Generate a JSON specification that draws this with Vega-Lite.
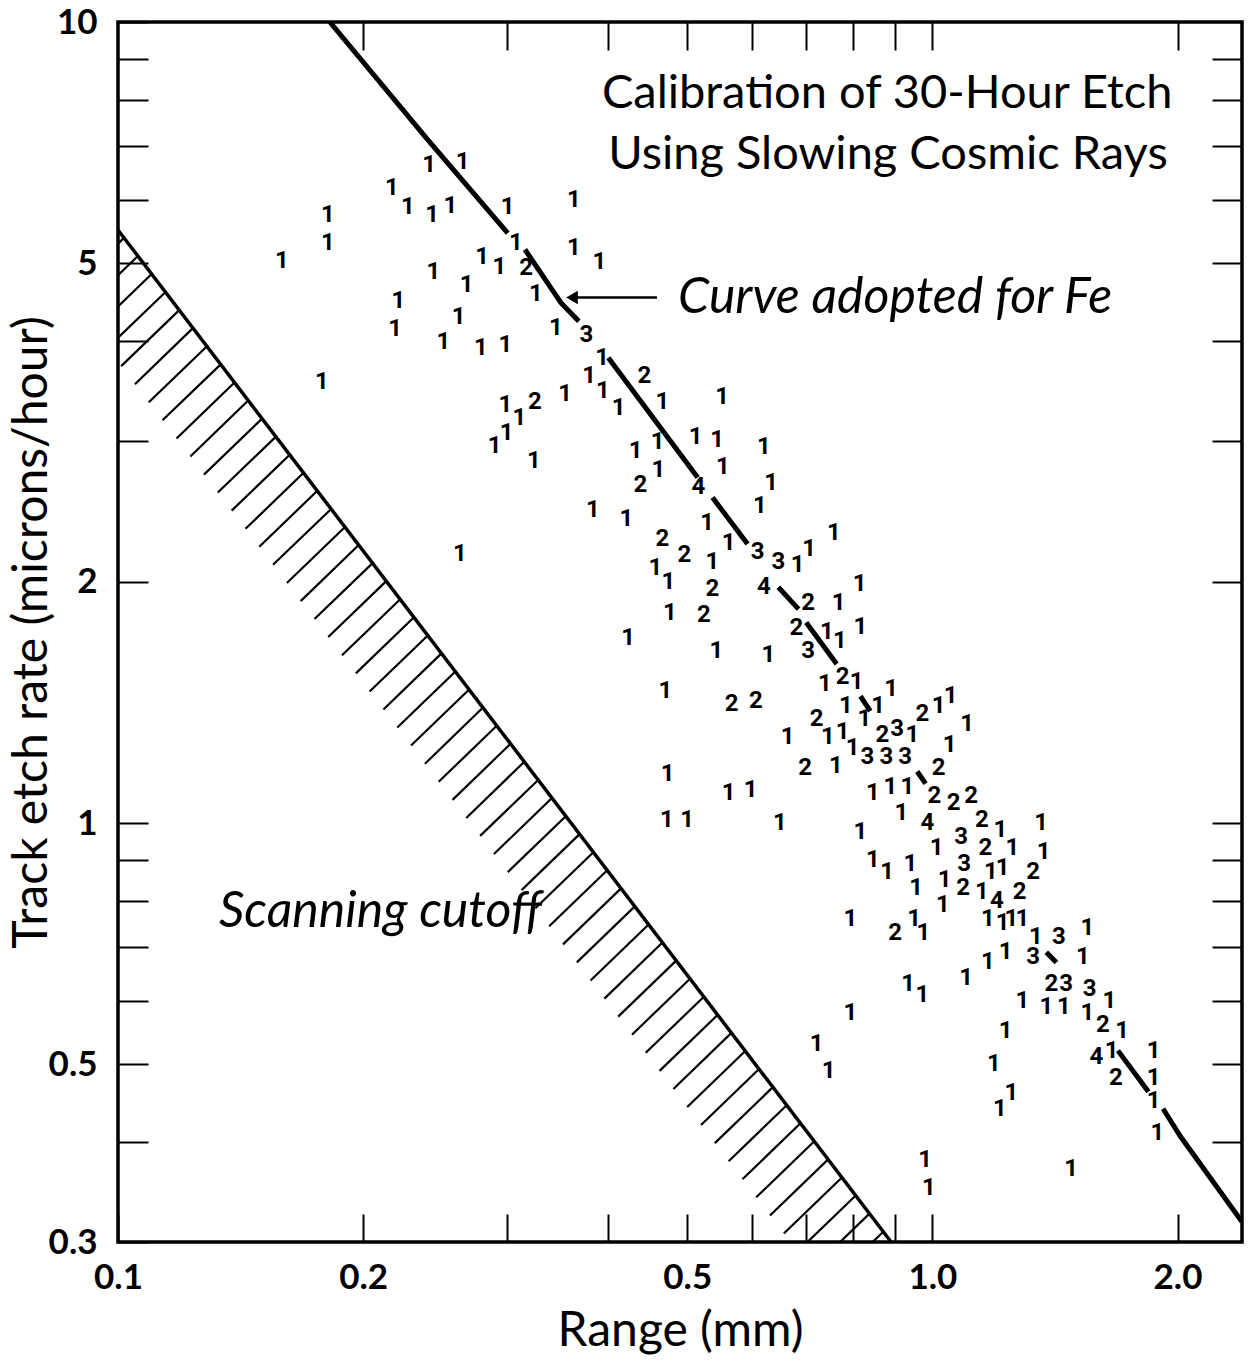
{
  "$schema": "https://vega.github.io/schema/vega-lite/v6.json",
  "width": 1124,
  "height": 1220,
  "autosize": {"type": "none"},
  "padding": {"left": 118, "top": 22, "right": 6, "bottom": 125},
  "background": "white",
  "config": {
    "view": {"stroke": "black", "strokeWidth": 3.5},
    "axis": {"grid": false, "domain": false, "tickColor": "black", "tickWidth": 2, "labelColor": "black", "titleColor": "black", "labelOverlap": false, "labelFlush": false}
  },
  "datasets": {
    "pts": [
      {"x":0.241,"y":6.63,"n":1},{"x":0.265,"y":6.69,"n":1},{"x":0.217,"y":6.2,"n":1},{"x":0.227,"y":5.88,"n":1},{"x":0.243,"y":5.75,"n":1},
      {"x":0.256,"y":5.9,"n":1},{"x":0.301,"y":5.87,"n":1},{"x":0.181,"y":5.75,"n":1},{"x":0.181,"y":5.3,"n":1},{"x":0.159,"y":5.03,"n":1},
      {"x":0.308,"y":5.3,"n":1},{"x":0.317,"y":4.93,"n":2},{"x":0.28,"y":5.09,"n":1},{"x":0.294,"y":4.95,"n":1},{"x":0.244,"y":4.88,"n":1},
      {"x":0.268,"y":4.7,"n":1},{"x":0.326,"y":4.58,"n":1},{"x":0.221,"y":4.49,"n":1},{"x":0.345,"y":4.15,"n":1},{"x":0.219,"y":4.14,"n":1},
      {"x":0.262,"y":4.28,"n":1},{"x":0.251,"y":3.99,"n":1},{"x":0.279,"y":3.92,"n":1},{"x":0.299,"y":3.95,"n":1},{"x":0.178,"y":3.55,"n":1},
      {"x":0.299,"y":3.33,"n":1},{"x":0.325,"y":3.35,"n":2},{"x":0.311,"y":3.2,"n":1},{"x":0.3,"y":3.07,"n":1},{"x":0.29,"y":2.96,"n":1},
      {"x":0.324,"y":2.83,"n":1},
      {"x":0.363,"y":6.0,"n":1},{"x":0.363,"y":5.23,"n":1},{"x":0.39,"y":5.01,"n":1},{"x":0.376,"y":4.07,"n":3},{"x":0.393,"y":3.81,"n":1},
      {"x":0.379,"y":3.61,"n":1},{"x":0.443,"y":3.61,"n":2},{"x":0.354,"y":3.43,"n":1},{"x":0.394,"y":3.46,"n":1},{"x":0.412,"y":3.3,"n":1},
      {"x":0.466,"y":3.35,"n":1},{"x":0.552,"y":3.4,"n":1},{"x":0.432,"y":2.91,"n":1},{"x":0.46,"y":2.99,"n":1},{"x":0.512,"y":3.03,"n":1},
      {"x":0.544,"y":3.01,"n":1},{"x":0.621,"y":2.95,"n":1},{"x":0.438,"y":2.64,"n":2},{"x":0.461,"y":2.76,"n":1},{"x":0.553,"y":2.78,"n":1},
      {"x":0.516,"y":2.63,"n":4},{"x":0.634,"y":2.66,"n":1},
      {"x":0.383,"y":2.46,"n":1},{"x":0.421,"y":2.4,"n":1},{"x":0.529,"y":2.37,"n":1},{"x":0.614,"y":2.49,"n":1},{"x":0.757,"y":2.3,"n":1},
      {"x":0.466,"y":2.26,"n":2},{"x":0.496,"y":2.16,"n":2},{"x":0.562,"y":2.24,"n":1},{"x":0.61,"y":2.18,"n":3},{"x":0.647,"y":2.12,"n":3},
      {"x":0.683,"y":2.1,"n":1},{"x":0.706,"y":2.2,"n":1},{"x":0.457,"y":2.08,"n":1},{"x":0.474,"y":2.0,"n":1},{"x":0.537,"y":2.12,"n":1},
      {"x":0.537,"y":1.96,"n":2},{"x":0.621,"y":1.97,"n":4},{"x":0.814,"y":1.99,"n":1},{"x":0.704,"y":1.88,"n":2},{"x":0.767,"y":1.88,"n":1},
      {"x":0.476,"y":1.83,"n":1},{"x":0.524,"y":1.82,"n":2},{"x":0.681,"y":1.75,"n":2},{"x":0.742,"y":1.73,"n":1},{"x":0.77,"y":1.69,"n":1},
      {"x":0.816,"y":1.755,"n":1},{"x":0.423,"y":1.7,"n":1},{"x":0.704,"y":1.64,"n":3},{"x":0.543,"y":1.64,"n":1},{"x":0.629,"y":1.62,"n":1},
      {"x":0.738,"y":1.49,"n":1},{"x":0.776,"y":1.52,"n":2},{"x":0.807,"y":1.5,"n":1},{"x":0.47,"y":1.46,"n":1},{"x":0.567,"y":1.41,"n":2},
      {"x":0.607,"y":1.42,"n":2},{"x":0.783,"y":1.4,"n":1},{"x":0.825,"y":1.35,"n":1},{"x":0.721,"y":1.35,"n":2},{"x":0.664,"y":1.28,"n":1},
      {"x":0.744,"y":1.28,"n":1},{"x":0.776,"y":1.3,"n":1},{"x":0.798,"y":1.24,"n":1},{"x":0.698,"y":1.17,"n":2},{"x":0.761,"y":1.18,"n":1},
      {"x":0.473,"y":1.15,"n":1},{"x":0.562,"y":1.09,"n":1},{"x":0.598,"y":1.1,"n":1},{"x":0.472,"y":1.01,"n":1},{"x":0.5,"y":1.01,"n":1},
      {"x":0.65,"y":1.0,"n":1},{"x":0.816,"y":0.975,"n":1},{"x":0.263,"y":2.17,"n":1},
      {"x":0.89,"y":1.47,"n":1},{"x":0.858,"y":1.4,"n":1},{"x":0.868,"y":1.29,"n":2},{"x":0.905,"y":1.31,"n":3},{"x":0.945,"y":1.29,"n":1},
      {"x":0.972,"y":1.37,"n":2},{"x":1.018,"y":1.4,"n":1},{"x":1.053,"y":1.44,"n":1},{"x":1.103,"y":1.33,"n":1},{"x":1.05,"y":1.25,"n":1},
      {"x":0.832,"y":1.21,"n":3},{"x":0.878,"y":1.21,"n":3},{"x":0.926,"y":1.21,"n":3},{"x":1.018,"y":1.17,"n":2},{"x":0.845,"y":1.09,"n":1},
      {"x":0.888,"y":1.11,"n":1},{"x":0.932,"y":1.11,"n":1},{"x":1.006,"y":1.08,"n":2},{"x":1.062,"y":1.06,"n":2},{"x":1.116,"y":1.08,"n":2},
      {"x":0.916,"y":1.03,"n":1},{"x":0.986,"y":1.0,"n":4},{"x":1.15,"y":1.01,"n":2},{"x":1.212,"y":0.98,"n":1},{"x":1.36,"y":1.0,"n":1},
      {"x":1.085,"y":0.96,"n":3},{"x":1.162,"y":0.93,"n":2},{"x":1.254,"y":0.93,"n":1},{"x":1.37,"y":0.92,"n":1},{"x":0.845,"y":0.9,"n":1},
      {"x":0.88,"y":0.87,"n":1},{"x":0.94,"y":0.89,"n":1},{"x":1.012,"y":0.93,"n":1},{"x":1.094,"y":0.89,"n":3},{"x":1.18,"y":0.87,"n":1},
      {"x":1.22,"y":0.88,"n":1},{"x":1.33,"y":0.87,"n":2},{"x":0.955,"y":0.83,"n":1},{"x":1.035,"y":0.85,"n":1},{"x":1.091,"y":0.83,"n":2},
      {"x":1.15,"y":0.82,"n":1},{"x":1.2,"y":0.8,"n":4},{"x":1.28,"y":0.82,"n":2},
      {"x":1.03,"y":0.79,"n":1},{"x":0.793,"y":0.76,"n":1},{"x":0.9,"y":0.73,"n":2},{"x":0.95,"y":0.76,"n":1},{"x":0.975,"y":0.73,"n":1},
      {"x":1.17,"y":0.76,"n":1},{"x":1.17,"y":0.67,"n":1},{"x":1.1,"y":0.64,"n":1},{"x":0.934,"y":0.63,"n":1},{"x":0.972,"y":0.61,"n":1},
      {"x":0.793,"y":0.58,"n":1},{"x":0.721,"y":0.53,"n":1},{"x":0.746,"y":0.49,"n":1},{"x":0.98,"y":0.38,"n":1},{"x":0.99,"y":0.35,"n":1},
      {"x":1.22,"y":0.75,"n":1},{"x":1.25,"y":0.76,"n":1},{"x":1.29,"y":0.76,"n":1},{"x":1.34,"y":0.72,"n":1},{"x":1.43,"y":0.72,"n":3},
      {"x":1.55,"y":0.74,"n":1},{"x":1.23,"y":0.69,"n":1},{"x":1.33,"y":0.68,"n":3},{"x":1.53,"y":0.68,"n":1},{"x":1.4,"y":0.63,"n":2},
      {"x":1.46,"y":0.63,"n":3},{"x":1.56,"y":0.62,"n":3},{"x":1.65,"y":0.6,"n":1},{"x":1.29,"y":0.6,"n":1},{"x":1.38,"y":0.59,"n":1},
      {"x":1.45,"y":0.59,"n":1},{"x":1.55,"y":0.58,"n":1},{"x":1.62,"y":0.56,"n":2},{"x":1.71,"y":0.55,"n":1},{"x":1.87,"y":0.52,"n":1},
      {"x":1.23,"y":0.55,"n":1},{"x":1.59,"y":0.51,"n":4},{"x":1.66,"y":0.52,"n":1},{"x":1.68,"y":0.48,"n":2},{"x":1.87,"y":0.48,"n":1},
      {"x":1.19,"y":0.5,"n":1},{"x":1.87,"y":0.45,"n":1},{"x":1.89,"y":0.41,"n":1},{"x":1.21,"y":0.44,"n":1},{"x":1.25,"y":0.46,"n":1},
      {"x":1.48,"y":0.37,"n":1}
    ],
    "fe": [
      {"seg":1,"x":0.182,"y":10},{"seg":1,"x":0.24,"y":7.13},{"seg":1,"x":0.301,"y":5.45},
      {"seg":2,"x":0.316,"y":5.2},{"seg":2,"x":0.35,"y":4.46},{"seg":2,"x":0.368,"y":4.23},
      {"seg":3,"x":0.4,"y":3.81},{"seg":3,"x":0.515,"y":2.7},
      {"seg":4,"x":0.537,"y":2.55},{"seg":4,"x":0.593,"y":2.23},
      {"seg":5,"x":0.647,"y":1.97},{"seg":5,"x":0.685,"y":1.85},
      {"seg":6,"x":0.7,"y":1.78},{"seg":6,"x":0.763,"y":1.58},
      {"seg":7,"x":0.816,"y":1.44},{"seg":7,"x":0.839,"y":1.38},
      {"seg":8,"x":0.958,"y":1.16},{"seg":8,"x":0.981,"y":1.12},
      {"seg":9,"x":1.38,"y":0.69},{"seg":9,"x":1.42,"y":0.67},
      {"seg":10,"x":1.69,"y":0.52},{"seg":10,"x":1.842,"y":0.462},
      {"seg":11,"x":1.92,"y":0.44},{"seg":11,"x":2.018,"y":0.406},{"seg":11,"x":2.4,"y":0.318}
    ],
    "cut": [{"x":0.1,"y":5.5},{"x":0.89,"y":0.3}],
    "hatch": [
      {"x":0.1017,"y":5.377,"x2":0.0863,"y2":4.578},{"x":0.1058,"y":5.105,"x2":0.0898,"y2":4.346},
      {"x":0.11,"y":4.847,"x2":0.0933,"y2":4.126},{"x":0.1144,"y":4.602,"x2":0.097,"y2":3.918},
      {"x":0.1189,"y":4.369,"x2":0.1009,"y2":3.719},{"x":0.1236,"y":4.148,"x2":0.1049,"y2":3.531},
      {"x":0.1286,"y":3.938,"x2":0.1091,"y2":3.352},{"x":0.1337,"y":3.738,"x2":0.1134,"y2":3.183},
      {"x":0.139,"y":3.549,"x2":0.118,"y2":3.021},{"x":0.1445,"y":3.37,"x2":0.1227,"y2":2.869},
      {"x":0.1503,"y":3.199,"x2":0.1275,"y2":2.723},{"x":0.1563,"y":3.037,"x2":0.1326,"y2":2.586},
      {"x":0.1625,"y":2.883,"x2":0.1379,"y2":2.455},{"x":0.169,"y":2.737,"x2":0.1434,"y2":2.33},
      {"x":0.1757,"y":2.599,"x2":0.1491,"y2":2.213},{"x":0.1827,"y":2.467,"x2":0.155,"y2":2.101},
      {"x":0.19,"y":2.342,"x2":0.1612,"y2":1.994},{"x":0.1975,"y":2.224,"x2":0.1676,"y2":1.893},
      {"x":0.2054,"y":2.111,"x2":0.1743,"y2":1.798},{"x":0.2135,"y":2.005,"x2":0.1812,"y2":1.707},
      {"x":0.2221,"y":1.903,"x2":0.1884,"y2":1.62},{"x":0.2309,"y":1.807,"x2":0.1959,"y2":1.538},
      {"x":0.2401,"y":1.715,"x2":0.2037,"y2":1.46},{"x":0.2496,"y":1.629,"x2":0.2118,"y2":1.386},
      {"x":0.2596,"y":1.546,"x2":0.2203,"y2":1.316},{"x":0.2699,"y":1.468,"x2":0.229,"y2":1.25},
      {"x":0.2807,"y":1.394,"x2":0.2382,"y2":1.186},{"x":0.2918,"y":1.323,"x2":0.2476,"y2":1.126},
      {"x":0.3034,"y":1.256,"x2":0.2575,"y2":1.069},{"x":0.3155,"y":1.193,"x2":0.2677,"y2":1.015},
      {"x":0.3281,"y":1.132,"x2":0.2784,"y2":0.9639},{"x":0.3411,"y":1.075,"x2":0.2895,"y2":0.9151},
      {"x":0.3547,"y":1.02,"x2":0.301,"y2":0.8687},{"x":0.3688,"y":0.9688,"x2":0.313,"y2":0.8248},
      {"x":0.3835,"y":0.9198,"x2":0.3254,"y2":0.7831},{"x":0.3988,"y":0.8732,"x2":0.3384,"y2":0.7434},
      {"x":0.4147,"y":0.829,"x2":0.3519,"y2":0.7058},{"x":0.4312,"y":0.7871,"x2":0.3659,"y2":0.6701},
      {"x":0.4483,"y":0.7473,"x2":0.3804,"y2":0.6362},{"x":0.4662,"y":0.7094,"x2":0.3956,"y2":0.6039},
      {"x":0.4847,"y":0.6735,"x2":0.4113,"y2":0.5734},{"x":0.504,"y":0.6394,"x2":0.4277,"y2":0.5444},
      {"x":0.5241,"y":0.6071,"x2":0.4447,"y2":0.5168},{"x":0.545,"y":0.5763,"x2":0.4624,"y2":0.4906},
      {"x":0.5666,"y":0.5472,"x2":0.4808,"y2":0.4658},{"x":0.5892,"y":0.5195,"x2":0.5,"y2":0.4423},
      {"x":0.6126,"y":0.4932,"x2":0.5199,"y2":0.4199},{"x":0.637,"y":0.4682,"x2":0.5406,"y2":0.3986},
      {"x":0.6624,"y":0.4445,"x2":0.5621,"y2":0.3784},{"x":0.6887,"y":0.422,"x2":0.5845,"y2":0.3593},
      {"x":0.7162,"y":0.4007,"x2":0.6077,"y2":0.3411},{"x":0.7447,"y":0.3804,"x2":0.6319,"y2":0.3238},
      {"x":0.7743,"y":0.3611,"x2":0.6571,"y2":0.3074},{"x":0.8052,"y":0.3429,"x2":0.6832,"y2":0.2919},
      {"x":0.8372,"y":0.3255,"x2":0.7104,"y2":0.2771},{"x":0.8705,"y":0.309,"x2":0.7387,"y2":0.2631}
    ],
    "arrow": [{"x":0.459,"x2":0.362,"y":4.53}],
    "arrowhead": [{"x":0.361,"y":4.53}],
    "title": [
      {"x":0.88,"y":8.12,"t":"Calibration of 30-Hour Etch"},
      {"x":0.882,"y":6.83,"t":"Using Slowing Cosmic Rays"}
    ],
    "notes": [
      {"x":0.9,"y":4.53,"t":"Curve adopted for Fe"},
      {"x":0.21,"y":0.775,"t":"Scanning cutoff"}
    ]
  },
  "encoding": {
    "x": {"field": "x", "type": "quantitative", "scale": {"type": "log", "domain": [0.1, 2.4], "nice": false}, "axis": null},
    "y": {"field": "y", "type": "quantitative", "scale": {"type": "log", "domain": [0.3, 10], "nice": false}, "axis": null}
  },
  "layer": [
    {
      "data": {"name": "hatch"},
      "mark": {"type": "rule", "clip": true, "color": "black", "strokeWidth": 2.2},
      "encoding": {
        "x": {"field": "x", "type": "quantitative", "scale": {"type": "log", "domain": [0.1, 2.4], "nice": false},
          "axis": {"orient": "bottom", "offset": -28, "tickSize": 28, "values": [0.1,0.2,0.3,0.4,0.5,0.6,0.7,0.8,0.9,1,2],
            "labelExpr": "indexof(['0.1','0.2','0.5','1.0','2.0'], format(datum.value, '.1f')) >= 0 ? format(datum.value, '.1f') : ''",
            "labelPadding": 18, "labelFont": "Lato", "labelFontSize": 35, "labelFontWeight": "bold",
            "title": "Range (mm)", "titleFont": "Lato", "titleFontSize": 48, "titleFontWeight": "normal", "titlePadding": 12}},
        "y": {"field": "y", "type": "quantitative", "scale": {"type": "log", "domain": [0.3, 10], "nice": false},
          "axis": {"orient": "left", "offset": -30, "tickSize": 30, "values": [0.3,0.4,0.5,0.6,0.7,0.8,0.9,1,2,3,4,5,6,7,8,9,10],
            "labelExpr": "indexof(['0.3','0.5','1','2','5','10'], format(datum.value, '~g')) >= 0 ? format(datum.value, '~g') : ''",
            "labelPadding": 21, "labelFont": "Lato", "labelFontSize": 35, "labelFontWeight": "bold",
            "title": "Track etch rate (microns/hour)", "titleFont": "Lato", "titleFontSize": 48, "titleFontWeight": "normal", "titlePadding": -8}},
        "x2": {"field": "x2"},
        "y2": {"field": "y2"}
      }
    },
    {
      "data": {"name": "cut"},
      "mark": {"type": "line", "color": "black", "strokeWidth": 3.5},
      "encoding": {
        "x": {"field": "x", "type": "quantitative", "scale": {"type": "log", "domain": [0.1, 2.4], "nice": false},
          "axis": {"orient": "top", "offset": -28, "tickSize": 28, "values": [0.2,0.3,0.4,0.5,0.6,0.7,0.8,0.9,1,2], "labels": false, "title": null}},
        "y": {"field": "y", "type": "quantitative", "scale": {"type": "log", "domain": [0.3, 10], "nice": false},
          "axis": {"orient": "right", "offset": -30, "tickSize": 30, "values": [0.4,0.5,0.6,0.7,0.8,0.9,1,2,3,4,5,6,7,8,9], "labels": false, "title": null}}
      }
    },
    {
      "data": {"name": "fe"},
      "mark": {"type": "line", "color": "black", "strokeWidth": 5, "clip": true},
      "encoding": {"detail": {"field": "seg", "type": "nominal"}}
    },
    {
      "data": {"name": "arrow"},
      "mark": {"type": "rule", "color": "black", "strokeWidth": 2.5},
      "encoding": {"x2": {"field": "x2"}}
    },
    {
      "data": {"name": "arrowhead"},
      "mark": {"type": "point", "shape": "triangle-left", "filled": true, "color": "black", "size": 180, "opacity": 1},
      "encoding": {}
    },
    {
      "data": {"name": "pts"},
      "mark": {"type": "text", "font": "Roboto", "fontWeight": "bold", "fontSize": 24, "align": "center", "baseline": "middle", "color": "black"},
      "encoding": {"text": {"field": "n", "type": "nominal"}}
    },
    {
      "data": {"name": "title"},
      "mark": {"type": "text", "font": "Lato", "fontSize": 47, "align": "center", "baseline": "middle", "color": "black"},
      "encoding": {"text": {"field": "t", "type": "nominal"}}
    },
    {
      "data": {"name": "notes"},
      "mark": {"type": "text", "font": "Lato", "fontStyle": "italic", "fontSize": 50, "align": "center", "baseline": "middle", "color": "black"},
      "encoding": {"text": {"field": "t", "type": "nominal"}}
    }
  ],
  "resolve": {"axis": {"x": "independent", "y": "independent"}}
}
